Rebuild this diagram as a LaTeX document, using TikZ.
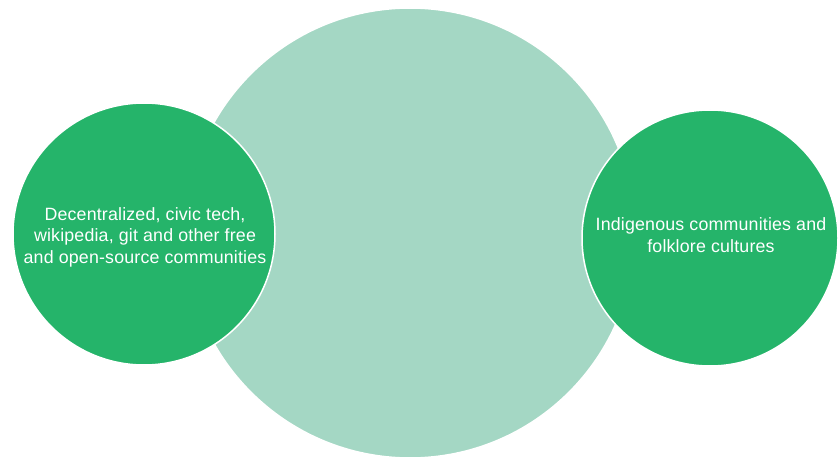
\documentclass[tikz,border=0pt]{standalone}
\usepackage{fontspec}
\setmainfont{Liberation Sans}[LetterSpace=1]
\definecolor{biglight}{HTML}{A4D7C4}
\definecolor{darkgreen}{HTML}{25B46A}
\begin{document}
\begin{tikzpicture}[x=1pt,y=1pt,
  bigcirc/.style={circle, fill=biglight, draw=white, line width=1.5pt, inner sep=0pt},
  smallcirc/.style={circle, fill=darkgreen, draw=white, line width=1.5pt, inner sep=0pt},
  lbl/.style={text=white, align=center, font=\fontsize{17.8}{21.5}\selectfont}]
\useasboundingbox[fill=white] (0,0) rectangle (839,459);
\node[bigcirc, minimum size=450pt] (big) at (410,226) {};
\node[smallcirc, minimum size=262pt] (left) at (144,225) {};
\node[smallcirc, minimum size=256pt] (right) at (710,221) {};
\node[lbl] (ltext) at (145,222) {Decentralized, civic tech,\\wikipedia, git and other free\\and open-source communities};
\node[lbl] (rtext) at (711,224) {Indigenous communities and\\folklore cultures};
\end{tikzpicture}
\end{document}
